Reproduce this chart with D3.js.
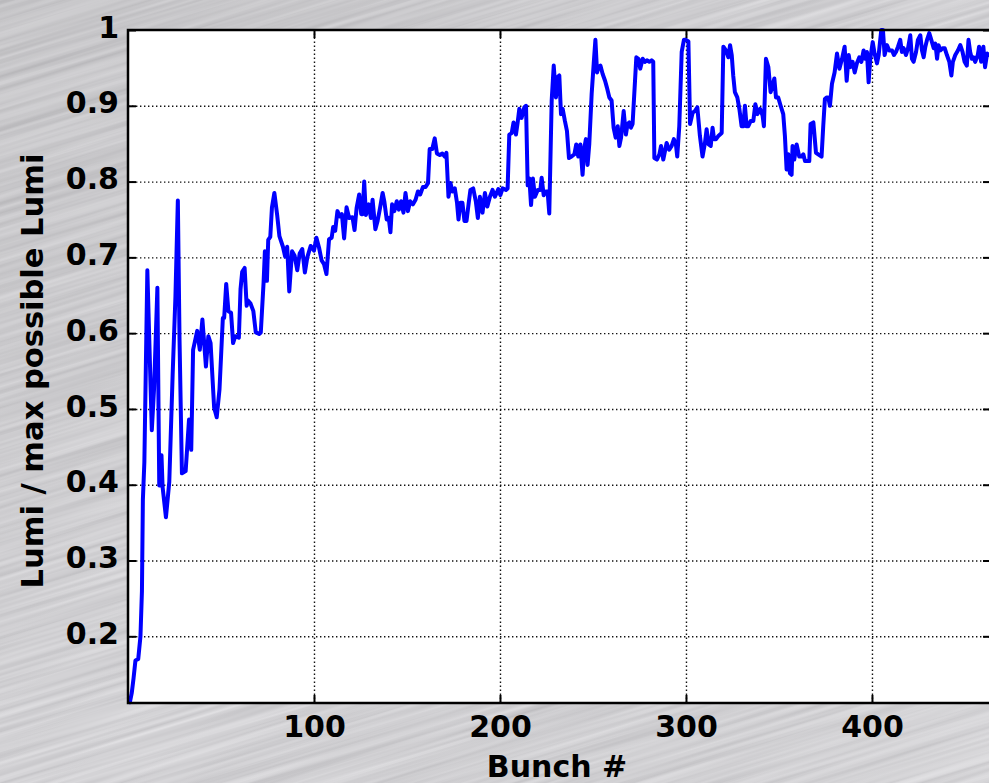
<!DOCTYPE html>
<html>
<head>
<meta charset="utf-8">
<script src="https://cdn.jsdelivr.net/npm/d3@7/dist/d3.min.js"></script>
<style>
  html, body { margin: 0; padding: 0; background: #aaa8ad; }
  svg { display: block; }
  text { font-family: "DejaVu Sans", "Liberation Sans", sans-serif; font-weight: bold; fill: #000; }
</style>
</head>
<body>
<svg id="chart" width="989" height="783"></svg>
<script>
// Luminosity per bunch, normalised to the maximum possible value
const bunch = [
  1, 2, 3, 4, 5.5, 6.7, 7.5, 8, 8.8, 10.4, 12.8, 14, 15.8, 16.8, 18, 18.6, 20.4, 22.2, 24, 25.5,
  26.8, 27.7, 29, 31, 32.8, 34, 35, 37.2, 38.6, 40, 41.9, 43.2, 44.4, 46.3, 47.7, 49.2, 51, 51.7, 52.8, 54,
  55.4, 56.5, 57.7, 59.6, 60.5, 61.4, 62.7, 63.8, 64.5, 65.9, 67.4, 68.7, 70.5, 71.4, 72.9, 73.6, 74.7, 75.4, 76.5, 77.4,
  78.7, 80.2, 81.4, 83.3, 84.5, 85.6, 86.7, 88.2, 89.6, 91, 92.3,
  93.7, 95.1, 96.4, 98.2, 100, 101.3, 102.7, 104.1, 105.4, 106.7, 108.1, 109.5, 110.3, 111.4, 112.6, 113.9, 115, 116.2, 117.5, 118.9,
  120.7, 121.8, 122.9, 124.3, 125.4, 126.1, 127, 127.9, 129.4, 130.6, 131.5, 133, 134.2, 135.5, 136.9, 137.8, 139.1, 140.2, 141.1, 142,
  143.2, 144.5, 145.6, 146.8, 148.1, 149.2, 150.5, 151.7, 153.2, 154.6, 155.9, 157.1, 158.6, 160, 161.3, 162.2, 163.6, 164.9, 166.1, 167.6,
  169, 170.3, 171.2, 172.3, 173.4, 174.4, 175.7, 176.9, 177.7, 178.7, 179.8, 180.9, 182, 183.1, 184.1, 185.6, 187, 188.1, 189.2, 190.6,
  191.9, 193.2, 194.6, 196, 197.3,
  199.1, 200.2, 201.4, 203.2, 204.1, 205, 206.3, 207.3, 208.6, 209.5, 210.4, 211.6, 213.1, 214, 214.9, 215.8, 216.7, 217.7, 218.8, 220.3,
  221.7, 222.4, 223.5, 224.7, 225.6, 226.5, 227.8, 228.9, 230.1, 231, 231.9, 232.8, 233.7, 234.9, 236, 237.1, 238.5, 240, 241, 242.1,
  243.2, 244.4, 245.3, 246.2, 247.1, 248, 249.3, 250.4, 251.3, 252.2, 252.9, 254, 255.2, 256.5, 257.5, 258.8, 260, 261.1, 262.2, 263.3,
  264.2, 265.1, 266.5, 267.7, 268.6, 269.5, 270.4, 271.3, 272.6, 273.3, 274.4, 275.4, 276.7, 277.9, 279, 280.3, 281.5, 282.4, 283, 284.4,
  285.7, 286.6,
  287.8, 289.6, 291, 292.3, 293.5, 294.6, 295.3, 296.4, 297.7, 298.9, 300, 301.3, 302.2, 303.6, 304.8, 306.1, 307.5, 308.9, 310.2, 311.1,
  312.2, 313.3, 314.3, 315.1, 316.1, 317.4, 319.2, 320.1, 321.5, 322.8, 323.7, 324.6, 325.4, 326.3, 327.6, 328.7, 329.9, 330.8, 331.7, 332.6,
  333.5, 334.8, 336.2, 337.3, 338.4, 339.8, 341.2, 341.9, 343, 344.3, 345.5, 346.6, 347.5, 348.4, 349.6, 350.9, 352.3, 353.2, 354.1, 355,
  355.9, 356.8, 357.3, 358.2, 359.5, 360.9, 362.2, 363.1, 364, 364.9, 366.3, 367, 368.5, 369.9, 371.1, 372.9, 373.8, 374.7, 375.6, 376.5,
  377.4,
  378.5, 379.9, 381.2, 382.5, 383.9, 385.3, 386.4, 387.5, 388.5, 389.6, 390.7, 391.9, 393.2, 394.3, 395.5, 396.4, 397.3, 398.2, 399.1, 400.4,
  401.4, 402.7, 403.6, 405, 405.9, 406.8, 408.1, 409.3, 410.8, 411.8, 412.9, 414, 415.2, 416.1, 417, 418.3, 419.4, 420.6, 421.5, 422.4,
  423.7, 424.7, 426, 426.9, 427.8, 428.7, 429.6, 430.8, 431.9, 433.2, 434.1, 435, 435.8, 436.7, 438, 439.1, 440.3, 441.6, 442.7, 443.5,
  444.8, 446.2, 447.5, 448.7, 449.8, 451, 451.9, 452.8, 453.7, 454.6, 455.5, 456.9, 457.6, 458.7, 459.9, 460.8, 461.9, 463, 464
];

const lumi = [
  0.113, 0.125, 0.145, 0.168, 0.170, 0.200, 0.260, 0.380, 0.430, 0.683, 0.472, 0.526, 0.660, 0.399, 0.439, 0.397, 0.357, 0.404, 0.545, 0.648,
  0.775, 0.592, 0.415, 0.418, 0.486, 0.446, 0.578, 0.603, 0.578, 0.618, 0.556, 0.596, 0.587, 0.502, 0.489, 0.526, 0.620, 0.620, 0.665, 0.629,
  0.627, 0.587, 0.596, 0.594, 0.658, 0.681, 0.686, 0.636, 0.643, 0.639, 0.629, 0.601, 0.599, 0.601, 0.667, 0.708, 0.669, 0.723, 0.727, 0.766,
  0.785, 0.756, 0.728, 0.714, 0.701, 0.714, 0.655, 0.708, 0.702, 0.683, 0.705,
  0.711, 0.680, 0.700, 0.715, 0.709, 0.726, 0.713, 0.696, 0.691, 0.678, 0.724, 0.726, 0.740, 0.735, 0.761, 0.754, 0.757, 0.725, 0.766, 0.752,
  0.753, 0.736, 0.765, 0.783, 0.757, 0.757, 0.800, 0.756, 0.770, 0.752, 0.776, 0.737, 0.748, 0.765, 0.785, 0.774, 0.750, 0.752, 0.733, 0.770,
  0.761, 0.774, 0.763, 0.774, 0.759, 0.785, 0.761, 0.774, 0.770, 0.776, 0.787, 0.783, 0.793, 0.793, 0.798, 0.843, 0.843, 0.857, 0.837, 0.835,
  0.837, 0.833, 0.838, 0.780, 0.798, 0.787, 0.791, 0.772, 0.750, 0.772, 0.772, 0.748, 0.748, 0.770, 0.789, 0.791, 0.774, 0.752, 0.780, 0.759,
  0.785, 0.767, 0.780, 0.789, 0.780,
  0.790, 0.782, 0.791, 0.789, 0.791, 0.862, 0.864, 0.878, 0.862, 0.878, 0.896, 0.884, 0.898, 0.900, 0.795, 0.804, 0.769, 0.804, 0.780, 0.789,
  0.789, 0.805, 0.782, 0.787, 0.787, 0.758, 0.907, 0.953, 0.911, 0.938, 0.940, 0.889, 0.896, 0.880, 0.867, 0.831, 0.833, 0.836, 0.849, 0.833,
  0.849, 0.809, 0.844, 0.856, 0.822, 0.849, 0.916, 0.956, 0.987, 0.944, 0.951, 0.953, 0.942, 0.933, 0.924, 0.911, 0.907, 0.871, 0.858, 0.873,
  0.847, 0.858, 0.893, 0.862, 0.876, 0.878, 0.871, 0.876, 0.933, 0.964, 0.962, 0.949, 0.962, 0.958, 0.960, 0.958, 0.960, 0.958, 0.831, 0.829,
  0.836, 0.847,
  0.829, 0.851, 0.842, 0.847, 0.856, 0.849, 0.833, 0.873, 0.971, 0.987, 0.987, 0.985, 0.876, 0.891, 0.893, 0.898, 0.860, 0.833, 0.851, 0.869,
  0.849, 0.847, 0.871, 0.856, 0.856, 0.860, 0.864, 0.978, 0.973, 0.964, 0.980, 0.967, 0.940, 0.918, 0.911, 0.896, 0.873, 0.873, 0.900, 0.873,
  0.873, 0.880, 0.880, 0.902, 0.889, 0.896, 0.887, 0.873, 0.962, 0.951, 0.918, 0.927, 0.936, 0.911, 0.911, 0.900, 0.889, 0.860, 0.816, 0.836,
  0.811, 0.809, 0.847, 0.829, 0.849, 0.833, 0.833, 0.836, 0.827, 0.827, 0.827, 0.876, 0.878, 0.838, 0.836, 0.833, 0.873, 0.909, 0.911, 0.911,
  0.900,
  0.929, 0.944, 0.969, 0.949, 0.962, 0.978, 0.933, 0.967, 0.951, 0.958, 0.944, 0.956, 0.964, 0.958, 0.973, 0.962, 0.971, 0.931, 0.962, 0.984,
  0.969, 0.956, 0.967, 1.000, 1.000, 0.967, 0.980, 0.973, 0.973, 0.967, 0.971, 0.978, 0.987, 0.971, 0.976, 0.967, 0.976, 0.993, 0.962, 0.958,
  0.971, 0.987, 0.993, 0.973, 0.964, 0.978, 0.987, 0.996, 0.987, 0.976, 0.982, 0.962, 0.980, 0.973, 0.976, 0.976, 0.967, 0.958, 0.940, 0.958,
  0.967, 0.973, 0.980, 0.971, 0.958, 0.953, 0.987, 0.971, 0.962, 0.964, 0.958, 0.967, 0.978, 0.958, 0.978, 0.951, 0.969, 0.967, 0.967
];

const xTicks = [100, 200, 300, 400];
const yTicks = [0.2, 0.3, 0.4, 0.5, 0.6, 0.7, 0.8, 0.9, 1];
const xDomain = [0, 464];
const yDomain = [0.112, 1];
const xTitle = "Bunch #";
const yTitle = "Lumi / max possible Lumi";

const W = 989, H = 783;
const plotL = 128, plotR = 991, plotT = 30, plotB = 703;

const svg = d3.select("#chart");
const defs = svg.append("defs");

// Brushed-metal backdrop: stretched fractal noise, tilted slightly
const f = defs.append("filter").attr("id", "brushed")
  .attr("x", 0).attr("y", 0).attr("width", 1).attr("height", 1)
  .attr("filterUnits", "objectBoundingBox");
f.append("feTurbulence").attr("type", "fractalNoise")
  .attr("baseFrequency", "0.003 0.2").attr("numOctaves", 3).attr("seed", 7).attr("result", "n");
f.append("feColorMatrix").attr("in", "n").attr("type", "matrix")
  .attr("values", [
    0.30, 0, 0, 0, 0.505,
    0.30, 0, 0, 0, 0.500,
    0.30, 0, 0, 0, 0.520,
    0, 0, 0, 0, 1
  ].join(" "));

svg.append("g")
  .attr("transform", `rotate(-17 ${W / 2} ${H / 2})`)
  .append("rect")
  .attr("x", -500).attr("y", -500).attr("width", W + 1000).attr("height", H + 1000)
  .attr("filter", "url(#brushed)");

// Soft light falloff across the metal
const sheen = defs.append("linearGradient").attr("id", "sheen")
  .attr("x1", "0").attr("y1", "0").attr("x2", "1").attr("y2", "1");
sheen.append("stop").attr("offset", "0").attr("stop-color", "#000").attr("stop-opacity", 0.07);
sheen.append("stop").attr("offset", "0.55").attr("stop-color", "#000").attr("stop-opacity", 0);
sheen.append("stop").attr("offset", "1").attr("stop-color", "#fff").attr("stop-opacity", 0.08);
svg.append("rect").attr("width", W).attr("height", H).attr("fill", "url(#sheen)");

const x = d3.scaleLinear().domain(xDomain).range([plotL, plotR]);
const y = d3.scaleLinear().domain(yDomain).range([plotB, plotT]);

// Plot area
svg.append("rect")
  .attr("x", plotL).attr("y", plotT)
  .attr("width", plotR - plotL).attr("height", plotB - plotT)
  .attr("fill", "#fff");

// Dotted grid
const grid = svg.append("g").attr("class", "grid");
grid.append("g")
  .attr("transform", `translate(0,${plotB})`)
  .call(d3.axisBottom(x).tickValues(xTicks).tickSize(-(plotB - plotT)).tickFormat(""));
grid.append("g")
  .attr("transform", `translate(${plotL},0)`)
  .call(d3.axisLeft(y).tickValues(yTicks.filter(v => v < 1)).tickSize(-(plotR - plotL)).tickFormat(""));
grid.selectAll(".domain").remove();
grid.selectAll("line")
  .attr("stroke", "#111")
  .attr("stroke-width", 1.4)
  .attr("stroke-dasharray", "1.4,2.6");

// Data line
const line = d3.line()
  .x((d, i) => x(bunch[i]))
  .y(d => y(d));

svg.append("path")
  .datum(lumi)
  .attr("d", line)
  .attr("fill", "none")
  .attr("stroke", "#0000ff")
  .attr("stroke-width", 4)
  .attr("stroke-linejoin", "round")
  .attr("stroke-linecap", "round");

// Axes with inward ticks on all four sides
const fmtY = v => (v === 1 ? "1" : d3.format(".1f")(v));

const axB = svg.append("g")
  .attr("transform", `translate(0,${plotB})`)
  .call(d3.axisBottom(x).tickValues(xTicks).tickSize(-8).tickPadding(13));
const axL = svg.append("g")
  .attr("transform", `translate(${plotL},0)`)
  .call(d3.axisLeft(y).tickValues(yTicks).tickSize(-8).tickPadding(9).tickFormat(fmtY));
const axT = svg.append("g")
  .attr("transform", `translate(0,${plotT})`)
  .call(d3.axisTop(x).tickValues(xTicks).tickSize(-8).tickFormat(""));
const axR = svg.append("g")
  .attr("transform", `translate(${plotR},0)`)
  .call(d3.axisRight(y).tickValues(yTicks).tickSize(-8).tickFormat(""));

[axB, axL, axT, axR].forEach(a => {
  a.selectAll(".domain").remove();
  a.selectAll("line").attr("stroke", "#000").attr("stroke-width", 2);
  a.selectAll("text")
    .attr("fill", "#000")
    .style("font-family", "'DejaVu Sans', 'Liberation Sans', sans-serif")
    .style("font-weight", "bold")
    .style("font-size", "30px");
});
axL.selectAll("text").attr("dy", "0.24em");

// Axes box
svg.append("rect")
  .attr("x", plotL).attr("y", plotT)
  .attr("width", plotR - plotL).attr("height", plotB - plotT)
  .attr("fill", "none")
  .attr("stroke", "#000")
  .attr("stroke-width", 2.5);

// Axis titles
svg.append("text")
  .attr("x", 557).attr("y", 777)
  .attr("text-anchor", "middle")
  .style("font-size", "30px")
  .text(xTitle);

svg.append("text")
  .attr("transform", "translate(43,371) rotate(-90)")
  .attr("text-anchor", "middle")
  .style("font-size", "30.5px")
  .text(yTitle);
</script>
</body>
</html>
